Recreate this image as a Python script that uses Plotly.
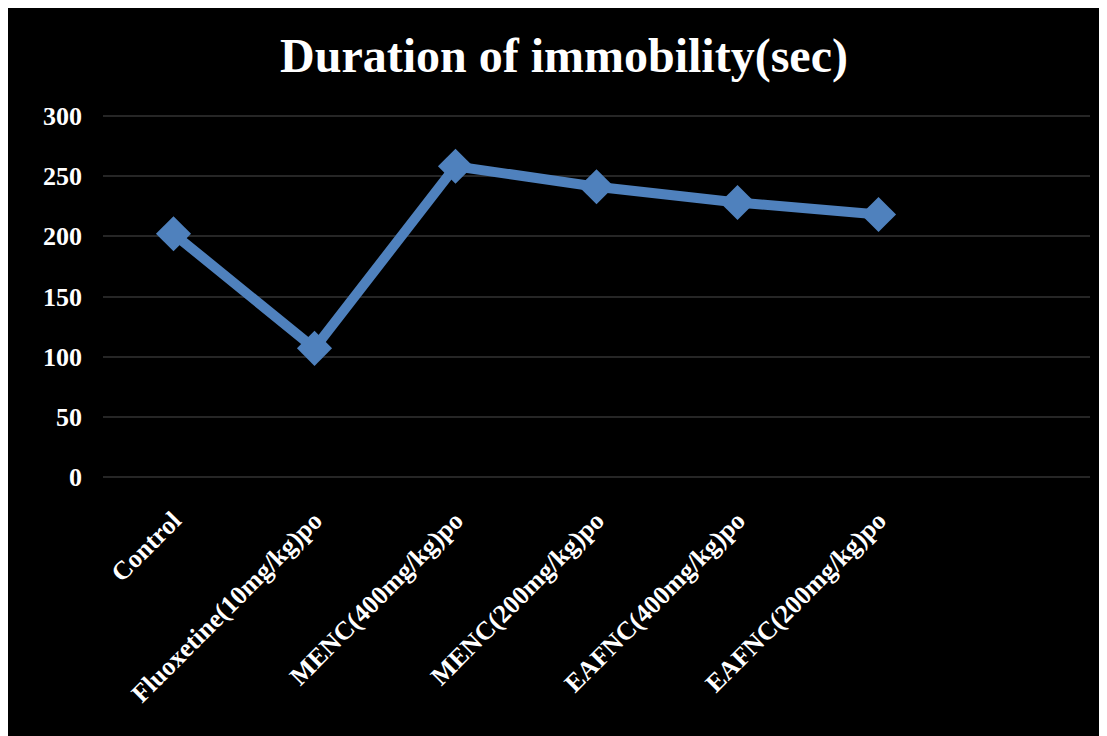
import plotly.graph_objects as go

categories = ["Control", "Fluoxetine(10mg/kg)po", "MENC(400mg/kg)po",
              "MENC(200mg/kg)po", "EAFNC(400mg/kg)po", "EAFNC(200mg/kg)po"]
values = [202, 107, 258, 241, 228, 218]
y_ticks = [0, 50, 100, 150, 200, 250, 300]
title_text = "Duration of immobility(sec)"

W, H = 1099, 728
L, R, T, B = 95, 17, 104, 255

fig = go.Figure()
fig.add_trace(go.Scatter(
    x=categories, y=values, mode="lines+markers",
    line=dict(color="#4F81BD", width=10),
    marker=dict(symbol="diamond", size=27, color="#4F81BD"),
    showlegend=False, cliponaxis=False,
))

font = "Liberation Serif"
fig.update_layout(
    width=W, height=H,
    margin=dict(l=L, r=R, t=T, b=B),
    paper_bgcolor="black", plot_bgcolor="black",
    title=dict(text="<b>" + title_text + "</b>", x=556 / W, xanchor="center",
               y=1 - 47 / H, yanchor="middle",
               font=dict(family=font, size=48, color="white")),
    xaxis=dict(type="category", categoryarray=categories + [" "],
               range=[-0.5, 6.5], showgrid=False, zeroline=False,
               showline=False, tickangle=-45, ticks="",
               ticklabelstandoff=18,
               tickvals=categories,
               ticktext=["<b>%s</b>" % c for c in categories],
               tickfont=dict(family=font, size=26, color="white")),
    yaxis=dict(range=[-3, 303], tickvals=y_ticks,
               ticktext=["<b>%d</b>" % v for v in y_ticks],
               showgrid=True, gridcolor="#262626", gridwidth=2,
               zeroline=False, showline=False, ticks="",
               ticklabelstandoff=20,
               tickfont=dict(family=font, size=26, color="white")),
)
fig.write_html("out.html")
